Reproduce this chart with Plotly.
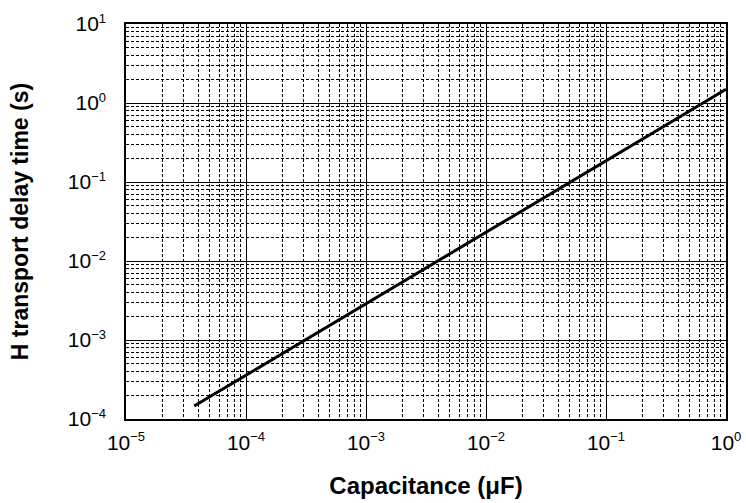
import plotly.graph_objects as go

# Data (log-log straight line)
capacitance_uF = [3.7e-5, 1e-3, 1.0]
delay_time_s = [1.46e-4, 2.9e-3, 1.49]

x_tick_vals = [1e-5, 1e-4, 1e-3, 1e-2, 1e-1, 1e0]
x_exponents = ["−5", "−4", "−3", "−2", "−1", "0"]
y_tick_vals = [1e-4, 1e-3, 1e-2, 1e-1, 1e0, 1e1]
y_exponents = ["−4", "−3", "−2", "−1", "0", "1"]


def power_label(exp):
    return "10<sup><span style='font-size:13px'>" + exp + "</span></sup>"


FONT = "Liberation Sans, Arial, Helvetica, sans-serif"

fig = go.Figure()
fig.add_trace(go.Scatter(
    x=capacitance_uF, y=delay_time_s, mode="lines",
    line=dict(color="black", width=3), showlegend=False,
))

axis_common = dict(
    type="log",
    showgrid=True, gridcolor="black", gridwidth=1,
    minor=dict(dtick="D1", showgrid=True, gridcolor="black", gridwidth=1,
               griddash="3px,2px", ticks=""),
    showline=True, linecolor="black", linewidth=1.5, mirror=True,
    ticks="",
    tickfont=dict(family=FONT, size=21, color="black"),
    zeroline=False,
)

fig.update_xaxes(
    **axis_common,
    range=[-5, 0],
    tickmode="array", tickvals=x_tick_vals,
    ticktext=[power_label(e) for e in x_exponents],
    ticklabelstandoff=4,
    title=dict(text="Capacitance (μF)", standoff=24,
               font=dict(family=FONT, size=24, color="black", weight="bold")),
)
fig.update_yaxes(
    **axis_common,
    range=[-4, 1],
    tickmode="array", tickvals=y_tick_vals,
    ticktext=[power_label(e) for e in y_exponents],
    ticklabelstandoff=14,
    title=dict(text="H transport delay time (s)", standoff=33,
               font=dict(family=FONT, size=23, color="black", weight="bold")),
)

fig.update_layout(
    width=746, height=503,
    margin=dict(l=126, r=20, t=24, b=84, autoexpand=False),
    paper_bgcolor="white", plot_bgcolor="white",
    font=dict(family=FONT, color="black"),
)

# remove the default page margin so the figure fills the window exactly
fig.write_html(
    "out.html",
    config={"displayModeBar": False},
    post_script="document.body.style.margin='0';"
                "document.body.style.overflow='hidden';",
)
